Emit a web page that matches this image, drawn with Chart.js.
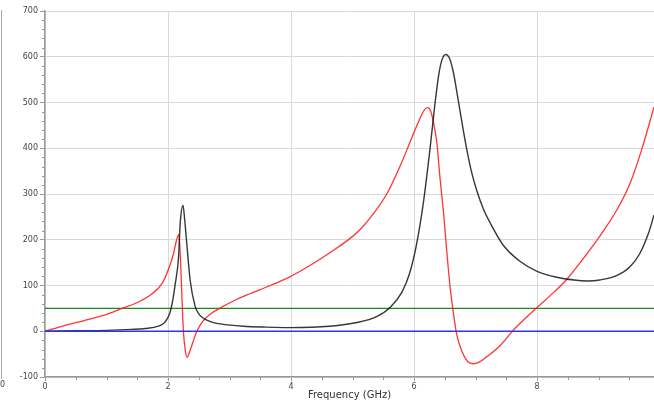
<!DOCTYPE html>
<html>
<head>
<meta charset="utf-8">
<script src="https://cdn.jsdelivr.net/npm/chart.js@4/dist/chart.umd.min.js"></script>
<style>
    html, body { margin: 0; padding: 0; background: #fff; }
    #wrap { position: relative; width: 654px; height: 401px; overflow: hidden; }
    #edge { position: absolute; left: 1px; top: 10px; width: 1px; height: 369px; background: #aaa; }
    #edgeLabel { position: absolute; left: -5px; top: 380px; font: 8px "DejaVu Sans", sans-serif; color: #444; }
</style>
</head>
<body>
<div id="wrap">
    <canvas id="chart" width="654" height="401"></canvas>
    <div id="edge"></div>
    <div id="edgeLabel">10</div>
</div>
<script>
// Kurva hitam (magnitudo)
const blackFreq = [0, 0.5, 1.0, 1.4, 1.63, 1.84, 1.95, 2.03, 2.08, 2.11, 2.17, 2.2, 2.244, 2.27, 2.3, 2.36, 2.44, 2.5, 2.57, 2.65, 2.74, 2.85, 3.22, 3.6, 3.98, 4.63, 5.07, 5.39, 5.61, 5.8, 5.93, 6.04, 6.15, 6.26, 6.34, 6.4, 6.45, 6.515, 6.58, 6.64, 6.69, 6.8, 6.86, 6.94, 7.02, 7.13, 7.24, 7.45, 7.72, 8.0, 8.32, 8.6, 8.81, 9.02, 9.3, 9.51, 9.67, 9.81, 9.9];
const blackVal  = [0, 1, 2, 4, 6, 11, 20, 40, 70, 97, 160, 240, 275, 245, 199, 111, 55, 38, 29, 23, 19, 16, 11, 9, 8, 11, 19, 32, 52, 85, 128, 190, 280, 400, 498, 560, 592, 605, 595, 565, 527, 439, 395, 345, 307, 266, 236, 188, 153, 131, 118, 112, 110, 112, 122, 141, 170, 214, 254];

// Kurva merah
const redFreq = [0, 0.33, 0.65, 0.98, 1.25, 1.52, 1.74, 1.9, 2.0, 2.09, 2.14, 2.175, 2.2, 2.22, 2.25, 2.28, 2.31, 2.35, 2.41, 2.46, 2.52, 2.6, 2.7, 2.85, 3.12, 3.33, 3.66, 3.98, 4.36, 4.69, 4.96, 5.12, 5.34, 5.56, 5.77, 5.93, 6.04, 6.13, 6.18, 6.22, 6.27, 6.31, 6.37, 6.42, 6.48, 6.53, 6.585, 6.64, 6.69, 6.78, 6.87, 6.96, 7.05, 7.18, 7.4, 7.61, 7.83, 8.0, 8.27, 8.48, 8.7, 9.02, 9.3, 9.51, 9.7, 9.9];
const redVal  = [0, 13, 24, 36, 50, 64, 82, 104, 133, 170, 200, 211, 165, 95, 0, -42, -57, -45, -22, -3, 13, 27, 39, 51, 70, 82, 100, 119, 148, 177, 203, 222, 257, 301, 360, 412, 448, 475, 486, 489, 481, 460, 412, 337, 257, 177, 97, 39, -5, -45, -66, -71, -68, -56, -31, 2, 31, 52, 85, 113, 150, 208, 266, 323, 397, 490];

// Garis konstan
const flatFreq = [0, 9.9];
const greenVal = [50, 50];
const blueVal  = [0, 0];

const xMinor = [0.5, 1, 1.5, 2.5, 3, 3.5, 4.5, 5, 5.5, 6.5, 7, 7.5, 8.5, 9, 9.5];
const yMinorStep = 20;

function toPoints(xs, ys) {
    return xs.map((x, i) => ({ x: x, y: ys[i] }));
}

// Plugin tick minor
const minorTicks = {
    id: 'minorTicks',
    afterDraw(chart) {
        const ctx = chart.ctx;
        const x = chart.scales.x;
        const y = chart.scales.y;
        ctx.save();
        ctx.strokeStyle = '#999';
        ctx.lineWidth = 1;
        ctx.beginPath();
        xMinor.forEach(v => {
            const px = Math.round(x.getPixelForValue(v)) + 0.5;
            ctx.moveTo(px, y.bottom);
            ctx.lineTo(px, y.bottom + 3);
        });
        for (let v = -100; v <= 700; v += yMinorStep) {
            if (v % 100 === 0) continue;
            const py = Math.round(y.getPixelForValue(v)) + 0.5;
            ctx.moveTo(x.left, py);
            ctx.lineTo(x.left - 3, py);
        }
        ctx.stroke();
        ctx.restore();
    }
};

const chart = new Chart(document.getElementById('chart').getContext('2d'), {
    type: 'line',
    data: {
        datasets: [
            {
                data: toPoints(flatFreq, blueVal),
                borderColor: '#3030ff',
                borderWidth: 1.3
            },
            {
                data: toPoints(blackFreq, blackVal),
                borderColor: 'rgba(20, 20, 20, 0.85)',
                borderWidth: 1.4,
                cubicInterpolationMode: 'monotone'
            },
            {
                data: toPoints(redFreq, redVal),
                borderColor: 'rgba(255, 30, 30, 0.9)',
                borderWidth: 1.3,
                cubicInterpolationMode: 'monotone'
            },
            {
                data: toPoints(flatFreq, greenVal),
                borderColor: '#1a8a1a',
                borderWidth: 1.3
            }
        ]
    },
    options: {
        responsive: false,
        animation: false,
        layout: {
            padding: { top: 11, right: 0, bottom: 0, left: 0 }
        },
        elements: {
            point: { radius: 0 }
        },
        plugins: {
            legend: { display: false },
            tooltip: { enabled: false }
        },
        scales: {
            x: {
                type: 'linear',
                min: 0,
                max: 9.9,
                afterFit: function(scale) { scale.height = 24; },
                ticks: {
                    stepSize: 2,
                    includeBounds: false,
                    maxRotation: 0,
                    padding: 1,
                    color: '#444',
                    font: { family: 'DejaVu Sans', size: 8 }
                },
                grid: {
                    color: '#d9d9d9',
                    tickColor: '#999',
                    tickLength: 4
                },
                border: { color: '#999', width: 1.5 },
                title: {
                    display: true,
                    text: 'Frequency (GHz)',
                    color: '#333',
                    padding: { top: 0, bottom: 0 },
                    font: { family: 'DejaVu Sans', size: 10 }
                }
            },
            y: {
                min: -100,
                max: 700,
                afterFit: function(scale) { scale.width = 45; },
                ticks: {
                    stepSize: 100,
                    padding: 2,
                    color: '#444',
                    font: { family: 'DejaVu Sans', size: 8 }
                },
                grid: {
                    color: '#d9d9d9',
                    tickColor: '#999',
                    tickLength: 5
                },
                border: { color: '#999', width: 1.5 }
            }
        }
    },
    plugins: [minorTicks]
});
</script>
</body>
</html>
